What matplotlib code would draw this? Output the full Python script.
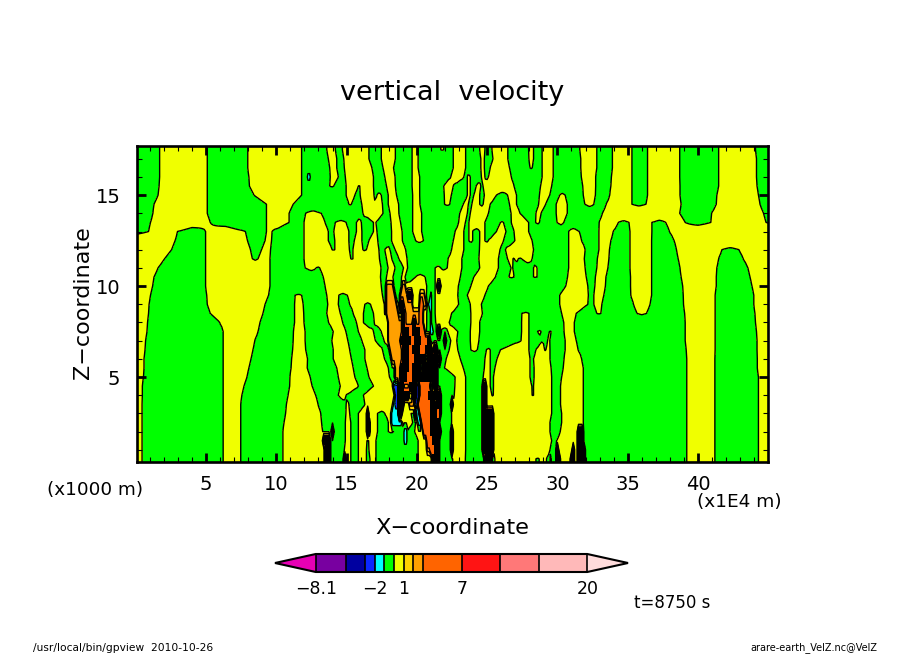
import numpy as np
import matplotlib
matplotlib.use('Agg')
import matplotlib.pyplot as plt
from matplotlib.colors import ListedColormap, BoundaryNorm
from matplotlib.colorbar import ColorbarBase
from matplotlib.ticker import MultipleLocator

# contour levels and fill colours of the tone bar
levels = [-8.1, -5, -3, -2, -1, 0, 1, 2, 3, 7, 11, 15, 20]
colors = ['#7800a0', '#0000a0', '#0a28ff', '#00ffff', '#00ff00', '#f0ff00',
          '#ffd000', '#ffa000', '#ff6400', '#ff1414', '#ff7878', '#ffb9b9']
color_low = '#e600b4'
color_high = '#ffdcdc'
bar_ticks = [-8.1, -2, 1, 7, 20]
bar_labels = ['\u22128.1', '\u22122', '1', '7', '20']

# vertical velocity class of each letter
classes = {'g': -0.5, 'y': 0.5, 'c': -1.5, 'b': -2.5, 'o': 2.5, 'O': 5.0, 'k': 5.0}

# heights, and for each height the class and the x where it ends
heights = [17.5, 17, 16.5, 16, 15.5, 15, 14.5, 14, 13.5, 13, 12.5, 12, 11.5, 11, 10.5, 10, 9.5, 9,
           8.5, 8, 7.5, 7, 6.5, 6, 5.5, 5, 4.5, 4, 3.5, 3, 2.5, 2, 1.5, 1, 0.5]
rows = [
    "g 1.7 y 5.1 g 8.0 y 11.8 g 13.6 y 14.2 g 14.7 y 16.6 g 17.5 y 18.5 g 19.65 y 20.1 g 21.7 y 21.9 g 22.6 y 23.5 g 24.5 y 24.85 g 25.35 y 26.5 g 27.95 y 28.3 g 28.9 y 29.7 g 31.6 y 32.8 g 33.9 y 35.3 g 36.4 y 38.7 g 41.5 y 44.1 g",
    "g 1.7 y 5.1 g 8.0 y 11.8 g 13.7 y 14.3 g 14.8 y 16.6 g 17.5 y 18.5 g 19.65 y 20.1 g 22.6 y 23.5 g 24.55 y 24.8 g 25.4 y 26.5 g 28.0 y 28.3 g 28.9 y 29.7 g 31.65 y 32.8 g 33.9 y 35.3 g 36.4 y 38.7 g 41.5 y 44.15 g",
    "g 1.7 y 5.1 g 8.0 y 11.8 g 13.8 y 14.3 g 14.85 y 16.8 g 17.6 y 18.35 g 19.65 y 20.1 g 22.6 y 23.5 g 24.55 y 24.8 g 25.25 y 26.6 g 28.05 y 28.25 g 28.9 y 29.7 g 31.65 y 32.8 g 33.9 y 35.3 g 36.4 y 38.7 g 41.5 y 44.15 g",
    "g 1.7 y 5.1 g 8.05 y 11.8 g 12.2 c 12.5 g 13.85 y 14.4 g 14.9 y 16.9 g 17.75 y 18.45 g 19.65 y 20.2 g 22.4 y 23.35 g 23.6 y 23.8 g 24.6 y 24.85 g 25.1 y 26.75 g 28.9 y 29.7 g 31.7 y 32.75 g 33.85 y 35.3 g 36.4 y 38.7 g 41.5 y 44.15 g",
    "g 1.65 y 5.1 g 8.1 y 11.8 g 13.8 y 14.1 g 15.0 y 15.85 g 16.0 y 16.9 g 17.85 y 18.5 g 19.65 y 20.2 g 21.9 y 22.6 g 23.6 y 23.8 g 24.25 y 24.55 g 24.75 y 26.9 g 28.8 y 29.6 g 31.8 y 32.75 g 33.8 y 35.3 g 36.4 y 38.75 g 41.5 y 44.2 g",
    "g 1.6 y 5.1 g 8.4 y 11.8 g 15.0 y 15.6 g 16.0 y 16.95 g 17.15 y 17.5 g 17.97 y 18.55 g 19.7 y 20.2 g 21.95 y 22.45 g 23.6 y 23.8 g 24.05 y 24.5 g 24.8 y 25.65 g 26.45 y 27.1 g 28.75 y 29.45 g 30.15 y 30.55 g 31.85 y 32.7 g 33.75 y 35.3 g 36.4 y 38.75 g 41.35 y 44.3 g",
    "g 1.3 y 5.1 g 9.3 y 11.2 g 15.15 y 15.35 g 16.08 y 16.9 g 17.0 y 17.55 g 17.97 y 18.7 g 19.7 y 20.25 g 22.0 y 22.35 g 23.3 y 23.65 g 23.9 y 24.5 g 24.75 y 25.25 g 26.6 y 27.1 g 28.65 y 29.15 g 29.9 y 30.7 g 31.95 y 32.6 g 33.5 y 35.3 g 36.3 y 38.8 g 41.3 y 44.4 g",
    "g 1.25 y 5.1 g 9.3 y 10.9 g 12.1 y 13.2 g 16.15 y 17.6 g 18.1 y 18.75 g 19.7 y 20.35 g 23.05 y 23.6 g 23.8 y 25.1 g 26.7 y 27.35 g 28.5 y 28.85 g 29.9 y 30.7 g 33.2 y 38.7 g 41.0 y 44.65 g",
    "g 1.05 y 5.3 g 9.3 y 10.9 g 12.0 y 13.5 g 14.2 y 15.0 g 15.7 y 16.05 g 16.9 y 17.1 g 18.15 y 18.85 g 19.7 y 20.35 g 23.0 y 23.45 g 23.7 y 24.85 g 25.95 y 26.15 g 26.75 y 27.95 g 28.45 y 28.75 g 30.0 y 30.45 g 33.0 y 34.35 g 35.1 y 36.75 g 37.7 y 39.1 g 40.9 y 44.85 g",
    "g 0.9 y 3.0 g 5.0 y 7.8 g 9.3 y 9.7 g 12.0 y 13.7 g 14.1 y 15.15 g 15.7 y 16.1 g 16.9 y 17.15 g 18.2 y 18.95 g 19.7 y 20.35 g 22.75 y 23.35 g 23.7 y 24.0 g 24.5 y 24.85 g 25.65 y 26.35 g 26.9 y 27.95 g 30.8 y 31.55 g 32.95 y 34.0 g 35.15 y 36.75 g 38.0 y",
    "y 2.8 g 5.0 y 7.95 g 9.2 y 9.65 g 12.0 y 13.7 g 14.15 y 15.15 g 15.55 y 16.1 g 16.6 y 17.25 g 18.2 y 19.0 g 19.9 y 20.5 g 22.6 y 23.35 g 23.7 y 24.0 g 24.5 y 24.85 g 25.1 y 26.15 g 27.0 y 28.2 g 30.8 y 31.75 g 32.95 y 33.8 g 35.15 y 36.7 g 38.3 y",
    "y 2.55 g 5.0 y 8.15 g 8.95 y 9.6 g 12.0 y 14.0 g 14.15 y 15.2 g 15.45 y 16.15 g 16.4 y 17.3 g 17.75 y 18.1 g 18.45 y 19.2 g 22.5 y 23.35 g 24.45 y 25.9 g 26.3 y 28.3 g 30.8 y 32.0 g 32.95 y 33.7 g 35.15 y 36.7 g 38.5 y 41.7 g 42.9 y",
    "y 2.05 g 5.0 y 8.3 g 8.7 y 9.55 g 12.0 y 15.3 g 15.45 y 17.35 g 17.85 y 18.25 g 18.75 y 19.3 g 22.25 y 23.2 g 24.4 y 25.8 g 26.45 y 26.85 g 27.0 y 27.25 g 27.45 y 28.2 g 30.8 y 31.9 g 32.85 y 33.65 g 35.15 y 36.7 g 38.6 y 41.5 g 43.25 y",
    "y 1.6 g 5.0 y 9.55 g 12.05 y 12.85 g 13.1 y 17.45 g 17.95 y 18.45 g 19.05 y 19.35 g 21.3 y 21.7 g 22.15 y 23.2 g 24.5 y 25.8 g 26.7 y 26.85 g 28.3 y 28.55 g 30.8 y 32.0 g 32.8 y 33.6 g 35.15 y 36.7 g 38.75 y 41.35 g 43.55 y",
    "y 1.3 g 5.0 y 9.55 g 13.35 y 17.4 g 17.85 y 18.3 g 18.9 y 19.15 g 19.9 y 20.6 g 21.3 y 23.1 g 24.05 y 25.6 g 26.55 y 26.9 g 28.3 y 28.55 g 30.75 y 32.05 g 32.7 y 33.45 g 35.2 y 36.7 g 38.8 y 41.3 g 43.7 y",
    "y 1.2 g 5.0 y 9.55 g 13.5 y 17.5 g 17.85 o 18.35 g 18.9 o 19.2 y 20.7 g 21.3 y 21.5 k 21.65 y 22.95 g 23.85 y 25.1 g 30.6 y 32.15 g 32.65 y 33.4 g 35.2 y 36.7 g 38.9 y 41.3 g 43.85 y",
    "y 1.05 g 5.05 y 9.45 g 11.35 y 11.8 g 13.6 y 14.45 g 15.05 y 17.55 g 17.85 o 18.45 g 18.85 o 19.3 k 19.65 y 20.25 o 20.6 y 20.7 g 20.9 c 21.05 g 21.3 y 22.9 g 23.6 y 24.85 g 30.15 y 32.2 g 32.6 y 33.3 g 35.25 y 36.7 g 38.95 y 41.25 g 44.0 y",
    "y 0.95 g 5.1 y 9.2 g 11.3 y 11.9 g 13.65 y 14.4 g 15.25 y 16.3 g 16.7 y 17.65 g 17.8 o 18.55 y 18.7 g 18.8 k 19.05 o 19.75 y 20.2 O 20.5 o 20.65 g 20.85 c 21.05 g 21.3 y 23.0 g 23.8 y 24.6 g 30.15 y 32.15 g 32.6 y 33.15 g 35.4 y 36.6 g 39.0 y 41.25 g 44.0 y",
    "y 0.9 g 5.3 y 9.05 g 11.3 y 11.95 g 13.6 y 14.55 g 15.5 y 16.2 g 16.9 y 17.7 g 17.85 o 18.7 g 18.9 k 19.15 o 19.65 k 19.75 o 20.25 O 20.5 y 20.7 g 20.9 c 21.05 g 21.3 y 22.5 g 23.85 y 24.65 g 27.5 y 28.0 g 30.3 y 31.35 g 32.8 y 33.1 g 35.65 y 36.35 g 39.05 y 41.25 g 44.05 y",
    "y 0.85 g 6.0 y 8.85 g 11.3 y 12.0 g 13.75 y 14.75 g 15.7 y 16.2 g 17.0 y 18.0 o 18.9 k 19.25 o 19.7 k 20.0 o 20.25 O 20.5 y 20.7 g 20.9 c 21.05 g 21.35 y 22.3 g 23.85 y 24.5 g 27.45 y 28.0 g 30.45 y 31.2 g 39.1 y 41.25 g 44.1 y",
    "y 0.8 g 6.25 y 8.7 g 11.25 y 12.05 g 14.05 y 14.95 g 15.85 y 16.9 g 17.5 y 18.0 o 18.9 k 19.4 O 19.75 k 20.2 O 20.6 y 20.7 g 20.9 c 21.15 g 21.5 k 21.65 g 22.2 y 22.9 g 23.8 y 24.5 g 27.45 y 28.0 g 28.6 y 28.85 g 29.4 y 29.55 g 30.5 y 31.2 g 39.1 y 41.25 g 44.15 y",
    "y 0.7 g 6.25 y 8.5 g 11.2 y 12.05 g 13.95 y 15.1 g 16.1 y 17.05 g 17.65 y 18.0 o 18.85 k 19.55 O 19.85 k 20.35 O 20.65 k 21.0 g 21.15 y 21.2 g 21.9 k 22.1 g 22.4 y 22.85 g 23.8 y 24.4 g 27.4 y 28.0 g 28.9 y 29.0 g 29.3 y 29.5 g 30.55 y 31.35 g 39.1 y 41.25 g 44.2 y",
    "y 0.65 g 6.25 y 8.35 g 11.15 y 12.1 g 14.05 y 15.25 g 16.3 y 17.55 g 18.05 o 18.9 k 19.4 O 19.75 k 20.2 O 20.6 k 21.05 y 21.2 k 21.4 g 22.3 y 22.9 g 23.85 y 24.3 g 24.95 y 25.25 g 25.95 y 28.0 g 28.5 y 29.1 g 29.2 y 29.5 g 30.55 y 31.5 g 39.15 y 41.25 g 44.2 y",
    "y 0.6 g 6.25 y 8.2 g 11.1 y 12.25 g 14.05 y 15.35 g 16.3 y 17.7 g 18.15 o 18.9 k 19.5 O 19.85 k 20.6 c 20.8 k 21.4 y 21.6 k 21.7 g 22.1 y 23.1 g 24.85 y 25.25 g 25.7 y 28.05 g 28.3 y 29.5 g 30.5 y 31.75 g 39.2 y 41.2 g 44.25 y",
    "y 0.6 g 6.25 y 8.05 g 11.05 y 12.2 g 14.3 y 15.5 g 16.45 y 18.0 g 18.4 o 18.8 k 19.4 O 19.75 k 20.2 b 20.4 k 21.4 g 22.0 y 23.3 g 24.8 y 25.25 g 25.55 y 28.05 g 28.35 y 29.55 g 30.4 y 31.85 g 39.2 y 41.2 g 44.25 y",
    "y 0.55 g 6.25 y 7.9 g 11.0 y 12.4 g 14.4 y 15.6 g 16.6 y 18.05 g 18.45 o 18.85 k 19.35 O 19.75 k 21.4 g 22.75 y 23.5 g 24.75 y 25.25 g 25.45 y 28.05 g 28.35 y 29.6 g 30.3 y 31.85 g 39.2 y 41.2 g 44.3 y",
    "y 0.5 g 6.25 y 7.7 g 10.95 y 12.55 g 14.55 y 15.85 g 16.9 y 18.35 b 18.75 k 19.05 o 19.4 k 20.0 b 20.15 O 20.9 k 21.0 b 21.2 k 21.45 g 22.7 y 23.5 g 24.75 k 24.95 y 25.25 g 25.45 y 28.15 g 28.3 y 29.6 g 30.25 y 31.85 g 39.2 y 41.2 g 44.3 y",
    "y 0.5 g 6.25 y 7.55 g 10.85 y 12.8 g 14.4 y 15.0 g 16.2 y 18.4 c 18.5 b 18.75 k 19.4 y 19.7 k 20.0 b 20.2 O 20.8 k 21.2 b 21.35 k 21.65 g 22.65 y 23.5 g 24.75 k 24.9 y 25.35 g 25.5 y 28.2 g 28.3 y 29.6 g 30.25 y 31.85 g 39.2 y 41.2 g 44.3 y",
    "y 0.45 g 6.25 y 7.5 g 10.75 y 13.0 g 15.0 y 15.15 g 16.3 y 18.3 c 18.45 b 18.7 k 19.1 y 19.5 o 19.85 b 20.1 O 20.9 k 21.3 b 21.45 k 21.7 g 22.4 k 22.55 y 23.5 g 24.75 k 24.9 y 29.6 g 30.25 y 31.85 g 39.2 y 41.2 g 44.3 y",
    "y 0.45 g 6.25 y 7.5 g 10.65 y 13.15 g 14.95 y 15.25 g 15.85 y 16.5 k 16.6 y 17.2 g 17.75 y 18.2 c 18.75 k 19.0 y 19.6 g 19.8 k 20.0 c 20.15 O 20.9 k 21.4 O 21.55 k 21.75 g 22.5 y 23.5 g 24.75 k 25.5 y 29.6 g 30.3 y 31.85 g 39.2 y 41.2 g 44.3 y",
    "y 0.45 g 6.25 y 7.5 g 10.55 y 13.25 g 14.9 y 15.3 g 15.85 y 16.45 k 16.6 g 16.7 y 17.2 g 18.0 y 18.25 c 18.9 g 19.0 y 19.7 g 19.9 y 20.1 c 20.3 O 20.95 k 21.6 g 22.5 y 23.5 g 24.75 k 25.5 y 29.5 g 30.3 y 31.4 k 31.5 y 31.85 g 39.2 y 41.2 g 44.3 y",
    "y 0.45 g 6.25 y 7.5 g 10.5 y 13.3 g 13.9 k 14.05 g 14.9 y 15.3 g 15.85 y 16.45 k 16.6 g 16.7 y 17.2 g 18.0 y 18.35 g 19.05 c 19.3 g 19.85 y 20.4 O 21.0 k 21.7 g 22.45 k 22.55 y 23.5 g 24.75 k 25.5 y 29.5 g 30.2 y 31.45 k 31.85 g 39.2 y 41.2 g 44.3 y",
    "y 0.45 g 6.25 y 7.5 g 10.5 y 13.35 k 13.8 g 14.9 y 15.3 g 15.85 y 16.45 g 16.6 y 17.1 g 19.05 c 19.3 g 20.1 y 20.7 O 21.1 k 21.6 g 22.45 k 22.55 y 23.5 g 24.75 k 25.5 y 29.6 g 29.9 k 30.0 y 31.45 k 31.85 g 39.2 y 41.2 g 44.3 y",
    "y 0.45 g 6.25 y 7.5 g 10.5 y 13.4 k 13.8 g 14.85 y 15.3 g 15.85 y 16.4 g 16.6 y 17.1 g 20.1 y 20.7 o 21.0 O 21.2 k 21.6 g 21.9 k 22.0 g 22.45 k 22.55 y 23.5 g 24.75 k 25.5 y 29.5 g 29.9 k 30.1 y 31.05 k 31.15 y 31.5 k 31.9 g 39.2 y 41.2 g 44.3 y",
    "y 0.45 g 6.25 y 7.5 g 10.5 y 13.45 k 13.8 g 14.85 k 14.95 y 15.3 g 15.85 y 16.4 g 16.65 y 17.1 g 20.1 y 21.05 k 21.6 g 22.55 y 23.45 g 24.85 k 25.3 g 25.55 y 28.5 g 28.7 y 29.25 g 29.5 y 29.6 g 30.0 k 30.2 y 31.0 k 31.15 y 31.4 k 31.9 g 39.2 y 41.2 g 44.3 y",
]

xs = np.arange(0, 45.26, 0.125)
# green and yellow fade to zero at their edges, so the zero line runs straight from row to row
edge_range = 2.0


def ReadRow(row):
    tokens = row.split()
    vals = np.zeros(xs.size)
    dark = np.zeros(xs.size)
    start = -99.0
    for i in range(0, len(tokens), 2):
        end = float(tokens[i + 1]) if i + 1 < len(tokens) else 199.0
        mask = (xs >= start) & (xs < end)
        vals[mask] = classes[tokens[i]]
        if tokens[i] in 'gy':
            d = np.minimum(xs[mask] - start, end - xs[mask])
            vals[mask] = vals[mask] * np.clip(d / edge_range, 0.02, 1)
        dark[mask] = tokens[i] == 'k'
        start = end
    return vals, dark


w = np.array([ReadRow(r)[0] for r in rows])
tangle = np.array([ReadRow(r)[1] for r in rows])
# the first and last rows carry on up to the frame
zs = np.r_[18.0, heights, 0.0]
w = np.vstack([w[0], w, w[-1]])
tangle = np.vstack([tangle[0], tangle, tangle[-1]])

W, H = 904, 654
fig = plt.figure(figsize=(W / 100, H / 100), dpi=100)
ax = fig.add_axes([137 / W, 1 - 462 / H, 631 / W, 316 / H])

cmap = ListedColormap(colors)
cmap.set_under(color_low)
cmap.set_over(color_high)
norm = BoundaryNorm(levels, cmap.N)

ax.contourf(xs, zs, w, levels=levels, cmap=cmap, norm=norm, extend='both')
ax.contour(xs, zs, w, levels=levels, colors='k', linewidths=1.0, linestyles='solid')
# knots of contour lines too close to tell apart come out solid black
ax.pcolormesh(xs, zs, np.ma.masked_equal(tangle, 0), cmap=ListedColormap(['k']), shading='nearest')

ax.set_xlim(0.09, 44.98)
ax.set_ylim(0.33, 17.7)
ax.xaxis.set_major_locator(MultipleLocator(5))
ax.xaxis.set_minor_locator(MultipleLocator(1))
ax.yaxis.set_major_locator(MultipleLocator(5))
ax.yaxis.set_minor_locator(MultipleLocator(1))
ax.tick_params(which='major', direction='in', length=6.5, width=2.0, top=True, right=True, labelsize=14)
ax.tick_params(axis='x', which='major', pad=9)
ax.tick_params(axis='y', which='major', pad=12)
ax.tick_params(which='minor', direction='in', length=3.5, width=0.8, top=True, right=True)
for s in ax.spines.values():
    s.set_linewidth(1.9)

fig.text(452 / W, 1 - 93 / H, 'vertical  velocity', fontsize=19.5, ha='center', va='center')
fig.text(452 / W, 1 - 528 / H, 'X\u2212coordinate', fontsize=16.2, ha='center', va='center')
fig.text(83 / W, 1 - 303 / H, 'Z\u2212coordinate', fontsize=16, ha='center', va='center', rotation=90)
fig.text(95 / W, 1 - 490 / H, '(x1000 m)', fontsize=13.2, ha='center', va='center')
fig.text(739 / W, 1 - 502 / H, '(x1E4 m)', fontsize=13.3, ha='center', va='center')
fig.text(672 / W, 1 - 603 / H, 't=8750 s', fontsize=12, ha='center', va='center')
fig.text(33 / W, 1 - 648 / H, '/usr/local/bin/gpview  2010-10-26', fontsize=7.7, ha='left', va='center')
fig.text(877 / W, 1 - 648 / H, 'arare-earth_VelZ.nc@VelZ', fontsize=7, ha='right', va='center')

# tone bar
cax = fig.add_axes([275 / W, 1 - 572 / H, 353 / W, 18 / H])
cb = ColorbarBase(cax, cmap=cmap, norm=norm, orientation='horizontal', extend='both',
                  extendfrac=0.15, spacing='proportional', drawedges=True,
                  boundaries=levels, ticks=bar_ticks)
cb.ax.set_xticklabels(bar_labels)
cb.ax.tick_params(length=0, labelsize=12.5, pad=6)
cb.ax.minorticks_off()
cb.outline.set_linewidth(1.5)
cb.dividers.set_linewidth(1.2)
cb.dividers.set_color('k')

fig.savefig('out.png', dpi=100)
